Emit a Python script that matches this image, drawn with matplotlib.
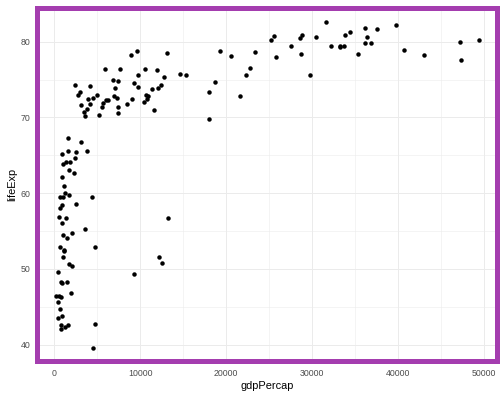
"""
Life expectancy vs GDP per capita (gapminder, 2007)
"""

import numpy as np
import matplotlib
matplotlib.use("Agg")
import matplotlib.pyplot as plt
from matplotlib.patches import Rectangle

plt.rcParams['font.family'] = ['Liberation Sans', 'DejaVu Sans']

# gapminder 2007: gdp per capita and life expectancy, one entry per country
gdp_percap = [
    974.58, 5937.03, 6223.37, 4797.23, 12779.38, 34435.37, 36126.49, 29796.05,
    1391.25, 33692.61, 1441.28, 3822.14, 7446.30, 12569.85, 9065.80, 10680.79,
    1217.03, 430.07, 1713.78, 2042.10, 36319.24, 706.02, 1704.06, 13171.64,
    4959.11, 7006.58, 986.15, 277.55, 3632.56, 9645.06, 1544.75, 14619.22,
    8948.10, 22833.31, 35278.42, 2082.48, 6025.37, 6873.26, 5581.18, 5728.35,
    12154.09, 641.37, 690.81, 33207.08, 30470.02, 13206.48, 752.75, 32170.37,
    1327.61, 27538.41, 5186.05, 942.65, 579.23, 1201.64, 3548.33, 39724.98,
    18008.94, 36180.79, 2452.21, 3540.65, 11605.71, 4471.06, 40675.00, 25523.28,
    28569.72, 7320.88, 31656.07, 4519.46, 1463.25, 1593.07, 23348.14, 47306.99,
    10461.06, 1569.33, 414.51, 12057.50, 1044.77, 759.35, 12451.66, 1042.58,
    1803.15, 10956.99, 11977.57, 3095.77, 9253.90, 3820.18, 823.69, 944.00,
    4811.06, 1091.36, 36797.93, 25185.01, 2749.32, 619.68, 2013.98, 49357.19,
    22316.19, 2605.95, 9809.19, 4172.84, 7408.91, 3190.48, 15389.92, 20509.65,
    19328.71, 7670.12, 10808.48, 863.09, 1598.44, 21654.83, 1712.47, 9786.53,
    862.54, 47143.18, 18678.31, 25768.26, 926.14, 9269.66, 28821.06, 3970.10,
    2602.39, 4513.48, 33859.75, 37506.42, 4184.55, 28718.28, 1107.48, 7458.40,
    882.97, 18008.51, 7092.92, 8458.28, 1056.38, 33203.26, 42951.65, 10611.46,
    11415.81, 2441.58, 3025.35, 2280.77, 1271.21, 469.71,
]
life_exp = [
    43.83, 76.42, 72.30, 42.73, 75.32, 81.24, 79.83, 75.64,
    64.06, 79.44, 56.73, 65.55, 74.85, 50.73, 72.39, 73.01,
    52.30, 49.58, 59.72, 50.43, 80.65, 44.74, 50.65, 78.55,
    72.96, 72.89, 65.15, 46.46, 55.32, 78.78, 48.33, 75.75,
    78.27, 76.49, 78.33, 54.79, 72.24, 74.99, 71.34, 71.88,
    51.58, 58.04, 52.95, 79.31, 80.66, 56.74, 59.45, 79.41,
    60.02, 79.48, 70.26, 56.01, 46.39, 60.92, 70.20, 82.21,
    73.34, 81.76, 64.70, 70.65, 70.96, 59.55, 78.89, 80.75,
    80.55, 72.57, 82.60, 72.54, 54.11, 67.30, 78.62, 77.59,
    71.99, 42.59, 45.68, 73.95, 59.44, 48.30, 74.24, 54.47,
    64.16, 72.80, 76.20, 66.80, 74.54, 71.16, 42.08, 62.07,
    52.91, 63.79, 79.76, 80.20, 72.90, 56.87, 46.86, 80.20,
    75.64, 65.48, 75.54, 71.75, 71.42, 71.69, 75.56, 78.10,
    78.75, 76.44, 72.48, 46.24, 65.53, 72.78, 63.06, 74.00,
    42.57, 79.97, 74.66, 77.93, 48.16, 49.34, 80.94, 72.40,
    58.56, 39.61, 80.88, 81.70, 74.14, 78.40, 52.52, 70.62,
    58.42, 69.82, 73.92, 71.78, 51.54, 79.43, 78.24, 76.38,
    73.75, 74.25, 73.42, 62.70, 42.38, 43.49,
]
x_ticks = [0, 10000, 20000, 30000, 40000, 50000]
y_ticks = [40, 50, 60, 70, 80]

x = np.array(gdp_percap)
y = np.array(life_exp)

fig = plt.figure(figsize=(7, 5.5), dpi=72, facecolor='white')
ax = fig.add_axes([0.070, 0.0811, 0.9218, 0.9045])
ax.set_facecolor('white')

# ggplot-like 5% expansion
xr = x.max() - x.min()
yr = y.max() - y.min()
ax.set_xlim(x.min() - 0.05 * xr, x.max() + 0.05 * xr)
ax.set_ylim(y.min() - 0.05 * yr, y.max() + 0.05 * yr)

ax.set_xticks(x_ticks)
ax.set_yticks(y_ticks)
ax.set_xticks([5000, 15000, 25000, 35000, 45000], minor=True)
ax.set_yticks([45, 55, 65, 75], minor=True)
ax.grid(True, which='major', color='#EBEBEB', linewidth=1.0)
ax.grid(True, which='minor', color='#EBEBEB', linewidth=0.5)
ax.set_axisbelow(True)
ax.tick_params(which='both', length=0, colors='#4D4D4D', labelsize=8.8)
ax.tick_params(axis='x', pad=5)
ax.tick_params(axis='y', pad=5)
for s in ax.spines.values():
    s.set_visible(False)

ax.scatter(x, y, s=20, color='black', linewidths=0, zorder=3)

# thick purple border, clipped to the panel so only the inner half shows
border = Rectangle((0, 0), 1, 1, transform=ax.transAxes, fill=False,
                   edgecolor='#A43DAF', linewidth=10, clip_on=True, zorder=5)
ax.add_patch(border)
border.set_clip_path(ax.patch)

ax.set_xlabel('gdpPercap', fontsize=11, color='black', labelpad=3)
ax.set_ylabel('lifeExp', fontsize=11, color='black', labelpad=3)

fig.savefig('out.png', dpi=72, facecolor='white')
